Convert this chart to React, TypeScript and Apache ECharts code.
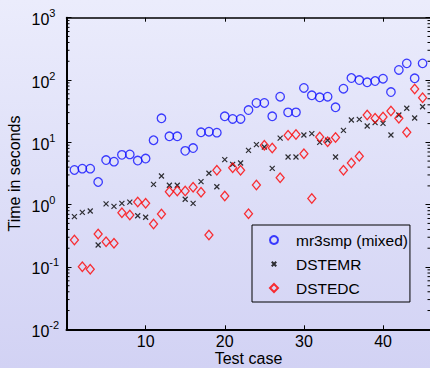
import React, { useEffect, useRef } from "react";
import * as echarts from "echarts";

const testCases = [
  1, 2, 3, 4, 5, 6, 7, 8, 9, 10, 11, 12, 13, 14, 15, 16, 17, 18, 19, 20, 21, 22, 23,
  24, 25, 26, 27, 28, 29, 30, 31, 32, 33, 34, 35, 36, 37, 38, 39, 40, 41, 42, 43, 44, 45,
];
const mr3smp = [
  3.6, 3.78, 3.78, 2.31, 5.2, 4.9, 6.3, 6.4, 5.1, 5.5, 10.8, 24.3, 12.5, 12.5, 7.3, 8.1,
  14.5, 14.8, 14.3, 26.2, 23.7, 23.7, 33, 42.8, 42.8, 26.2, 54, 30.3, 30.3, 74.5, 56.9,
  52.8, 54, 36.5, 72.6, 107.7, 100, 91.9, 96.4, 105, 64.2, 145, 185, 106.6, 185,
];
const dstemr = [
  0.641, 0.754, 0.791, 0.225, 1.03, 0.94, 1.05, 1.1, 0.665, 0.627, 2.12, 2.88, 2.05, 2.05,
  1.22, 1.05, 2.34, 3.19, 1.94, 5.27, 4.44, 4.66, 7.45, 9.17, 8.42, 3.83, 11.7, 5.82, 5.82,
  13.1, 13.8, 10.0, 10.8, 5.82, 15.6, 22.8, 23.4, 18.3, 20.7, 20.2, 13.1, 27.5, 35.2, 24.6,
  37.3,
];
const dstedc = [
  0.271, 0.101, 0.0918, 0.338, 0.255, 0.24, 0.743, 0.682, 1.1, 1.05, 0.49, 0.708, 1.61,
  1.66, 1.66, 1.9, 1.58, 0.326, 3.56, 1.38, 3.92, 3.56, 0.716, 2.07, 8.96, 8.11, 2.71, 13.0,
  13.3, 6.57, 1.25, 12.2, 10.2, 12.0, 3.56, 4.66, 5.97, 27.5, 24.3, 25.5, 31.8, 24.3, 14.5,
  71.8, 52,
];
const seriesNames = ["mr3smp (mixed)", "DSTEMR", "DSTEDC"];
const xTicks = [10, 20, 30, 40];
const X_MIN = 0;
const X_MAX = 46;
const Y_MIN = 0.01;
const Y_MAX = 1000;

const FONT = "'Liberation Sans', Arial, Helvetica, sans-serif";
const CROSS = "path://M0,0L10,10M10,0L0,10";
const CROSS_LEGEND = "path://M0,0M2.2,2.2L7.8,7.8M7.8,2.2L2.2,7.8M10,10";

const minorTickValues: number[] = [];
for (let k = -2; k <= 2; k++) {
  for (let m = 2; m <= 9; m++) minorTickValues.push(m * Math.pow(10, k));
}

export default function App() {
  const ref = useRef<HTMLDivElement>(null);
  useEffect(() => {
    if (!ref.current) return;
    const chart = echarts.init(ref.current, undefined, { renderer: "svg" });
    const zip = (ys: number[]) => testCases.map((x, i) => [x, ys[i]]);
    const yLabelFmt = (v: number) => {
      const e = Math.round(Math.log10(v));
      return `{b|10}{s|${e}}`;
    };
    chart.setOption({
      animation: false,
      backgroundColor: "transparent",
      textStyle: { fontFamily: FONT },
      grid: {
        left: 66.5,
        top: 17.7,
        width: 364,
        height: 311.6,
        containLabel: false,
        outerBoundsMode: "none",
      },
      xAxis: [
        {
          type: "value", min: X_MIN, max: X_MAX, interval: 10, position: "bottom",
          name: "Test case", nameLocation: "middle", nameGap: 21, nameMoveOverlap: false,
          nameTextStyle: { fontSize: 16, lineHeight: 16, color: "#000", fontFamily: FONT, verticalAlign: "top" },
          axisLine: { show: true, onZero: false, lineStyle: { color: "#000", width: 2 } },
          axisTick: { show: true, inside: true, length: 4, lineStyle: { color: "#000" } },
          axisLabel: { fontSize: 16, color: "#000", margin: 4, fontFamily: FONT,
            formatter: (v: number) => (xTicks.includes(v) ? String(v) : "") },
          splitLine: { show: false },
        },
        {
          type: "value", min: X_MIN, max: X_MAX, interval: 10, position: "top",
          axisLine: { show: true, onZero: false, lineStyle: { color: "#000", width: 1.5 } },
          axisTick: { show: true, inside: true, length: 4, lineStyle: { color: "#000" } },
          axisLabel: { show: false }, splitLine: { show: false },
        },
      ],
      yAxis: [
        {
          type: "log", logBase: 10, min: Y_MIN, max: Y_MAX, position: "left",
          name: "Time in seconds", nameLocation: "middle", nameGap: 44, nameRotate: 90,
          nameMoveOverlap: false,
          nameTextStyle: { fontSize: 16, color: "#000", fontFamily: FONT },
          axisLine: { show: true, onZero: false, lineStyle: { color: "#000", width: 2 } },
          axisTick: { show: true, inside: true, length: 5, lineStyle: { color: "#000" } },
          axisLabel: { margin: 35, align: "left", formatter: yLabelFmt,
            rich: {
              b: { fontSize: 16, color: "#000", fontFamily: FONT, lineHeight: 20, verticalAlign: "bottom" },
              s: { fontSize: 11, color: "#000", fontFamily: FONT, lineHeight: 12, verticalAlign: "top" },
            } },
          splitLine: { show: false },
        },
        {
          type: "log", logBase: 10, min: Y_MIN, max: Y_MAX, position: "right",
          axisLine: { show: true, onZero: false, lineStyle: { color: "#000", width: 1.5 } },
          axisTick: { show: true, inside: true, length: 5, lineStyle: { color: "#000" } },
          axisLabel: { show: false }, splitLine: { show: false },
        },
      ],
      legend: {
        orient: "vertical", left: 252, top: 225,
        data: [
          { name: seriesNames[0], icon: "circle" },
          { name: seriesNames[1], icon: CROSS_LEGEND },
          { name: seriesNames[2], icon: "diamond" },
        ],
        borderColor: "#000", borderWidth: 1, backgroundColor: "transparent",
        padding: [6, 2, 5, 17], itemWidth: 8, itemHeight: 8, itemGap: 6, selectedMode: false,
        textStyle: { fontSize: 15.5, lineHeight: 18, color: "#000", fontFamily: FONT, padding: [0, 0, 0, 13] },
      },
      series: [
        {
          type: "custom", name: "minorTicks", silent: true, clip: false,
          data: minorTickValues.map((v) => [X_MIN, v]), encode: { x: 0, y: 1 },
          renderItem: (_p: any, api: any) => {
            const v = api.value(1);
            const pl = api.coord([X_MIN, v]);
            const pr = api.coord([X_MAX, v]);
            return { type: "group", children: [
              { type: "line", shape: { x1: pl[0], y1: pl[1], x2: pl[0] + 3, y2: pl[1] }, style: { stroke: "#000", lineWidth: 1 } },
              { type: "line", shape: { x1: pr[0], y1: pr[1], x2: pr[0] - 3, y2: pr[1] }, style: { stroke: "#000", lineWidth: 1 } },
            ] };
          },
        },
        { type: "scatter", name: seriesNames[0], data: zip(mr3smp), symbol: "circle", symbolSize: 8.5,
          itemStyle: { color: "rgba(0,0,0,0)", borderColor: "#1010ff", borderWidth: 1.3 } },
        { type: "scatter", name: seriesNames[1], data: zip(dstemr), symbol: CROSS, symbolSize: 5,
          itemStyle: { color: "rgba(0,0,0,0)", borderColor: "#000", borderWidth: 1.2 } },
        { type: "scatter", name: seriesNames[2], data: zip(dstedc), symbol: "diamond", symbolSize: [8, 9.5],
          itemStyle: { color: "rgba(0,0,0,0)", borderColor: "#ff0000", borderWidth: 1.3 } },
      ],
    });
    return () => chart.dispose();
  }, []);
  return (
    <div
      ref={ref}
      style={{
        position: "fixed", left: 0, top: 0, width: 430, height: 368,
        background: "linear-gradient(180deg, #ebecfc 0%, #dedff8 50%, #d2d2f4 100%)",
      }}
    />
  );
}
